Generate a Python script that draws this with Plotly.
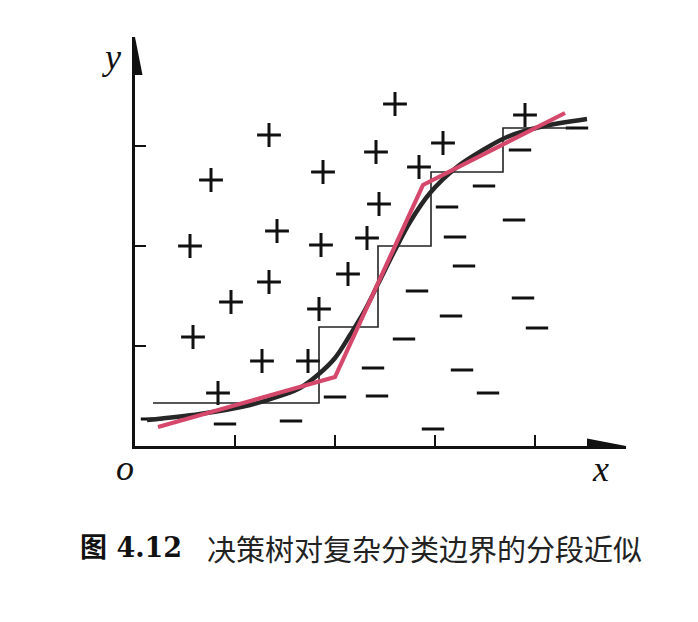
import plotly.graph_objects as go

# ---- data (in axis units: 1 unit = one tick interval) ----
plus_x = [2.60, 1.34, 0.76, 1.88, 2.41, 3.08, 2.84, 2.44, 3.90, 0.55, 1.42,
          1.86, 2.32, 0.96, 1.34, 2.13, 0.58, 1.84, 1.27, 1.73, 0.83]
plus_y = [3.42, 3.11, 2.66, 2.74, 2.94, 3.03, 2.79, 2.42, 3.31, 2.00, 2.15,
          2.01, 2.08, 1.44, 1.64, 1.72, 1.09, 1.37, 0.85, 0.85, 0.53]

minus_x = [0.17, 0.90, 1.56, 2.00, 2.42, 2.38, 2.69, 2.82, 3.16, 3.29, 3.20,
           3.12, 3.49, 3.85, 3.79, 3.88, 4.02, 3.27, 3.53, 2.98, 4.42]
minus_y = [0.27, 0.22, 0.25, 0.49, 0.50, 0.78, 1.07, 1.55, 1.30, 1.80, 2.09,
           2.39, 2.60, 2.96, 2.26, 1.48, 1.18, 0.76, 0.53, 0.17, 3.18]

true_x = [0.12, 0.65, 1.15, 1.45, 1.65, 1.85, 2.00, 2.15, 2.30, 2.45, 2.60,
          2.75, 2.95, 3.22, 3.48, 3.72, 4.05, 4.52]
true_y = [0.26, 0.32, 0.41, 0.50, 0.58, 0.73, 0.88, 1.11, 1.36, 1.66, 1.96,
          2.24, 2.53, 2.79, 2.96, 3.09, 3.19, 3.27]

oblique_x = [0.23, 2.00, 2.88, 4.30]
oblique_y = [0.19, 0.69, 2.61, 3.33]

step_x = [0.18, 1.84, 2.43, 2.96, 3.68, 4.35]
step_y = [0.43, 1.19, 2.00, 2.74, 3.18, 3.18]

x_ticks = [1, 2, 3, 4]
y_ticks = [1, 2, 3]

x_max, y_max = 4.91, 4.09
caption_bold = "图 4.12"
caption_text = "决策树对复杂分类边界的分段近似"

# ---- figure ----
fig = go.Figure()
fig.add_trace(go.Scatter(x=plus_x, y=plus_y, mode="markers",
                         marker=dict(symbol="cross-thin", size=17,
                                     line=dict(width=3, color="#111")),
                         hoverinfo="skip"))
fig.add_trace(go.Scatter(x=minus_x, y=minus_y, mode="markers",
                         marker=dict(symbol="line-ew", size=16,
                                     line=dict(width=3, color="#111")),
                         hoverinfo="skip"))
fig.add_trace(go.Scatter(x=step_x, y=step_y, mode="lines", line_shape="hv",
                         line=dict(color="#222", width=1.6), hoverinfo="skip"))
fig.add_trace(go.Scatter(x=true_x, y=true_y, mode="lines", line_shape="spline",
                         line=dict(color="#262626", width=4.5), hoverinfo="skip"))
fig.add_trace(go.Scatter(x=oblique_x, y=oblique_y, mode="lines",
                         line=dict(color="#d5486c", width=4.2), hoverinfo="skip"))

# arrowheads at the ends of the axes
ax_len, ax_half = 0.39, 0.075
fig.add_shape(type="path", xref="x", yref="y", line_width=0, fillcolor="#111",
              path=f"M {x_max-ax_len},{-ax_half} L {x_max},0 L {x_max-ax_len},{ax_half} Z")
fig.add_shape(type="path", xref="x", yref="y", line_width=0, fillcolor="#111",
              path=f"M {-ax_half},{y_max-0.38} L 0,{y_max} L {ax_half},{y_max-0.38} Z")

axis_common = dict(showline=True, linecolor="#111", linewidth=2.6, ticks="inside",
                   ticklen=11, tickwidth=1.5, tickcolor="#111", showticklabels=False,
                   showgrid=False, zeroline=False, fixedrange=True)
fig.update_xaxes(range=[0, x_max], tickvals=x_ticks, **axis_common)
fig.update_yaxes(range=[0, y_max], tickvals=y_ticks, **axis_common)

lab_font = dict(family="Liberation Serif", size=36, color="#111")
for lx, ly, lt in [(-0.020, -0.054, "o"), (0.949, -0.056, "x"), (-0.047, 0.951, "y")]:
    fig.add_annotation(xref="paper", yref="paper", x=lx, y=ly, text=f"<i>{lt}</i>",
                       xanchor="center", yanchor="middle", showarrow=False, font=lab_font)

fig.add_annotation(xref="paper", yref="paper", x=-0.116, y=-0.249,
                   xanchor="left", yanchor="middle", text=f"<b>{caption_bold}</b>",
                   showarrow=False,
                   font=dict(family="DejaVu Serif, Noto Sans CJK SC", size=27, color="#111"))
fig.add_annotation(xref="paper", yref="paper", x=0.1426, y=-0.249,
                   xanchor="left", yanchor="middle", text=caption_text, showarrow=False,
                   font=dict(family="Noto Sans CJK SC", size=29, color="#222"))

fig.update_layout(width=698, height=622, showlegend=False,
                  paper_bgcolor="white", plot_bgcolor="white",
                  margin=dict(l=127, r=80, t=29, b=184))
fig.write_html("out.html")
